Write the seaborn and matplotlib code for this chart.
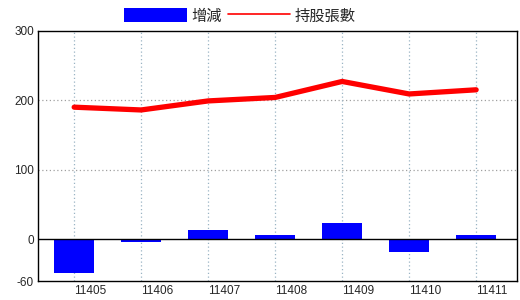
import matplotlib
matplotlib.use("Agg")
import matplotlib.pyplot as plt
import seaborn as sns
import numpy as np
import pandas as pd
from matplotlib.patches import Patch
from matplotlib.lines import Line2D
import matplotlib.transforms as mtrans

months = ["11405", "11406", "11407", "11408", "11409", "11410", "11411"]
change = [-49, -4, 14, 6, 24, -18, 6]
holdings = [190, 186, 199, 204, 227, 209, 215]
y_ticks = [300, 200, 100, 0, -60]
bar_label = "增減"
line_label = "持股張數"

sns.set_style("white")
plt.rcParams['font.family'] = ['Noto Sans CJK TC', 'DejaVu Sans']

df = pd.DataFrame({"month": months, "change": change, "holdings": holdings})
df["pos"] = np.arange(len(df))

fig = plt.figure(figsize=(5.2, 3.0), dpi=100)
ax = fig.add_axes([38/520, 1 - 281/300, (517-38)/520, (281-30.7)/300])

# grids
for yv in [100, 200]:
    ax.axhline(yv, color="#a0a0a0", linestyle=(0, (1, 2)), linewidth=0.9, zorder=0)
for xv in df["pos"]:
    ax.axvline(xv, color="#9ab4c4", linestyle=(0, (1, 2)), linewidth=0.9, zorder=0.5)

sns.barplot(data=df, x="month", y="change", color="#0000ff", saturation=1,
            width=0.6, ax=ax, zorder=2, edgecolor="none")
sns.lineplot(data=df, x="pos", y="holdings", color="#ff0000", linewidth=3.8,
             ax=ax, zorder=3, sort=False)

ax.axhline(0, color="black", linewidth=1.0, zorder=2.5)

ax.set_xlim(-0.54, 6.61)
ax.set_ylim(-60, 300)
ax.set_yticks(y_ticks)
ax.set_yticklabels([str(v) for v in y_ticks], fontsize=8.5, family="Liberation Sans")
ax.set_xticks(df["pos"])
ax.set_xticklabels(months, fontsize=8.5, family="Liberation Sans", ha="left")
offset = mtrans.ScaledTranslation(2/100, 0, fig.dpi_scale_trans)
for lab in ax.get_xticklabels():
    lab.set_transform(lab.get_transform() + offset)
ax.tick_params(axis="both", length=0, pad=3)
ax.set_xlabel("")
ax.set_ylabel("")
for s in ax.spines.values():
    s.set_color("black")
    s.set_linewidth(1.0)

handles = [Patch(facecolor="#0000ff", edgecolor="none", label=bar_label),
           Line2D([0], [0], color="#ff0000", linewidth=1.2, label=line_label)]
fig.legend(handles=handles, loc="center", bbox_to_anchor=(240/520, 1 - 16/300),
           ncol=2, frameon=False, fontsize=11, handlelength=4.1, handleheight=1.05,
           handletextpad=0.3, columnspacing=0.4, borderpad=0, borderaxespad=0)

fig.savefig("out.png", dpi=100)
